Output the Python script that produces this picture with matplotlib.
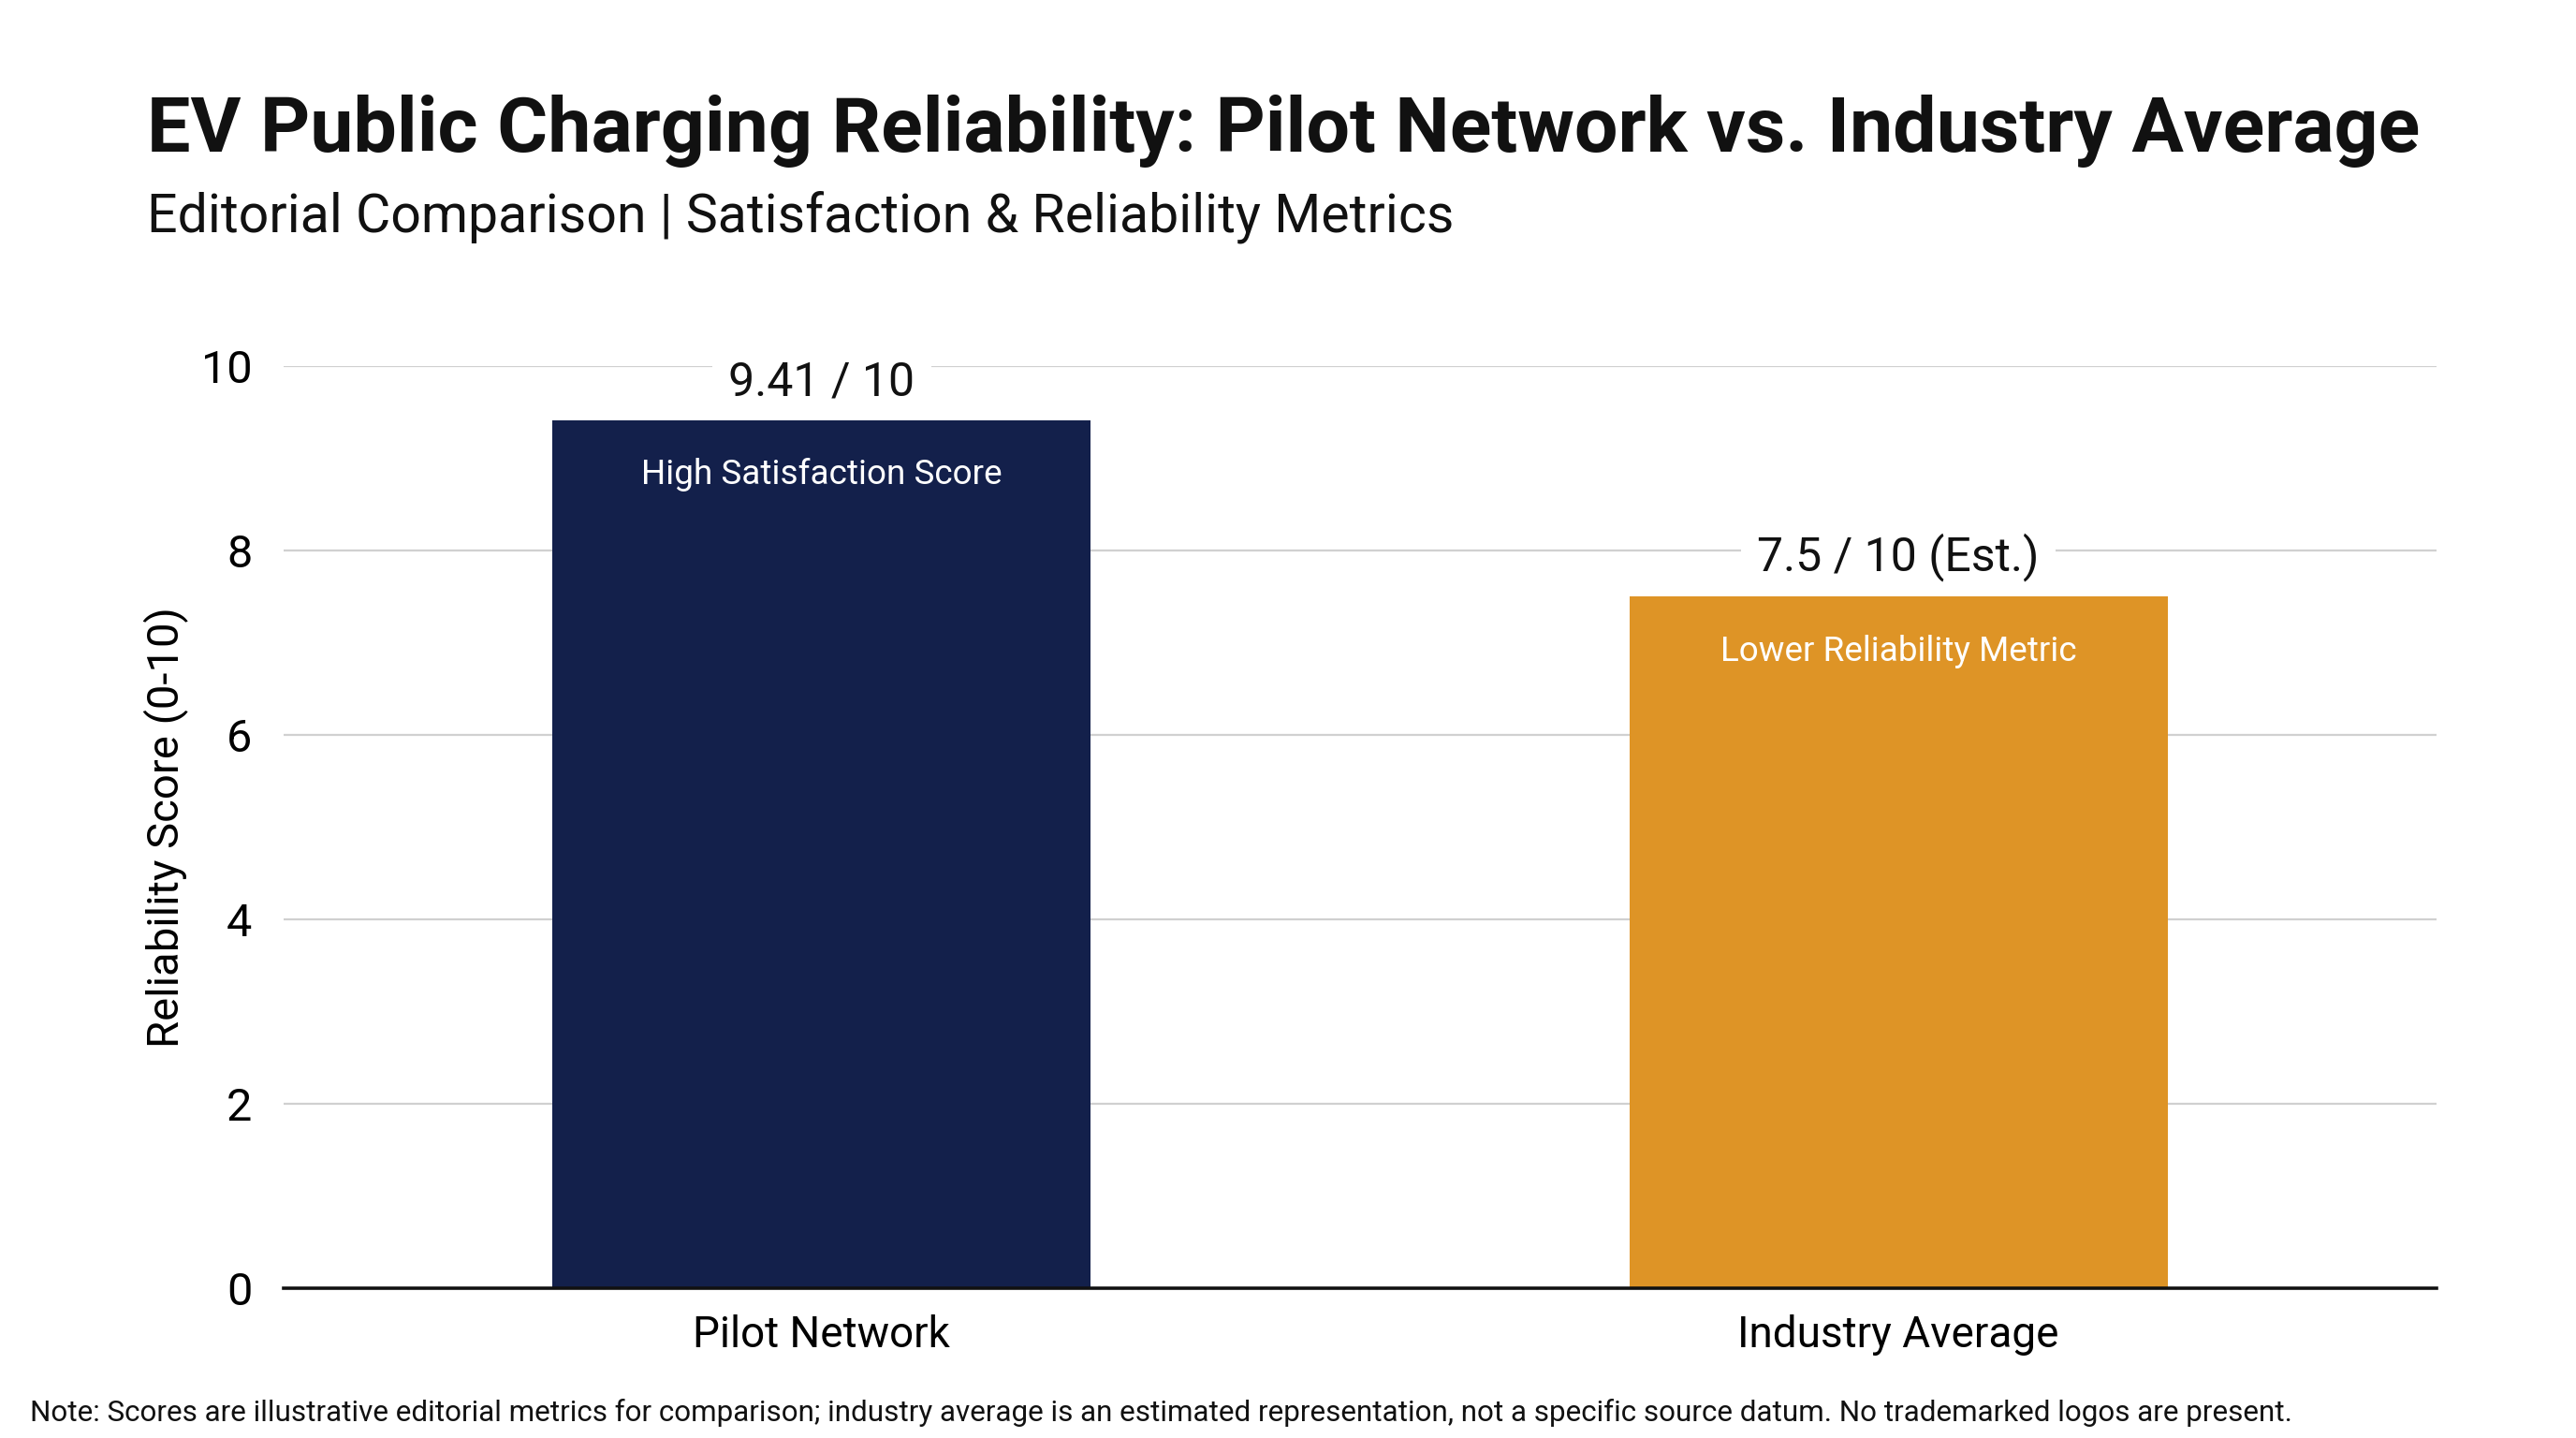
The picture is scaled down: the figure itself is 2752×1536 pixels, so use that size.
import matplotlib.pyplot as plt

categories = ["Pilot Network", "Industry Average"]
scores = [9.41, 7.5]
value_labels = ["9.41 / 10", "7.5 / 10 (Est.)"]
inner_labels = ["High Satisfaction Score", "Lower Reliability Metric"]
bar_colors = ["#13204B", "#DE9426"]
y_ticks = [0, 2, 4, 6, 8, 10]

plt.rcParams['font.family'] = ['Roboto', 'DejaVu Sans']

fig = plt.figure(figsize=(13.76, 7.68), dpi=200)
fig.patch.set_facecolor('white')
ax = fig.add_axes([0.110, 0.1042, 0.836, 0.6413])

x = list(range(len(categories)))
bars = ax.bar(x, scores, width=0.5, color=bar_colors, zorder=2)

ax.set_xlim(-0.5, 1.5)
ax.set_ylim(0, 10)
ax.set_yticks(y_ticks)
ax.set_xticks(x)
ax.set_xticklabels(categories, fontsize=16.5)
ax.tick_params(axis='y', length=0, pad=12, labelsize=17.5)
ax.tick_params(axis='x', length=0, pad=10)
ax.yaxis.grid(True, color='#D0D0D0', linewidth=0.8, zorder=0)
ax.set_axisbelow(True)
for side in ['top', 'right', 'left']:
    ax.spines[side].set_visible(False)
ax.spines['bottom'].set_linewidth(1.3)
ax.spines['bottom'].set_color('#111111')
ax.spines['bottom'].set_zorder(3)

ax.set_ylabel("Reliability Score (0-10)", fontsize=17, labelpad=5)

for b, val, lab, inner in zip(bars, scores, value_labels, inner_labels):
    cx = b.get_x() + b.get_width() / 2
    # white box hides the gridline behind the label but stays under the bar
    ax.annotate(lab, (cx, val), xytext=(0, 6), textcoords='offset points',
                ha='center', va='bottom', fontsize=18, color='#111111',
                bbox=dict(boxstyle='square,pad=0.35', fc='white', ec='none'),
                zorder=1.5)
    ax.annotate(inner, (cx, val), xytext=(0, -21), textcoords='offset points',
                ha='center', va='center', fontsize=13.3, color='white', zorder=4)

fig.text(0.057, 0.8947, "EV Public Charging Reliability: Pilot Network vs. Industry Average",
         fontsize=29.7, fontweight='bold', color='#111111', va='baseline')
fig.text(0.057, 0.839, "Editorial Comparison | Satisfaction & Reliability Metrics",
         fontsize=20.6, color='#111111', va='baseline')
fig.text(0.0116, 0.0117,
         "Note: Scores are illustrative editorial metrics for comparison; industry average is an "
         "estimated representation, not a specific source datum. No trademarked logos are present.",
         fontsize=11.3, color='#111111', va='baseline')

fig.savefig("out.png", dpi=200, facecolor='white')
